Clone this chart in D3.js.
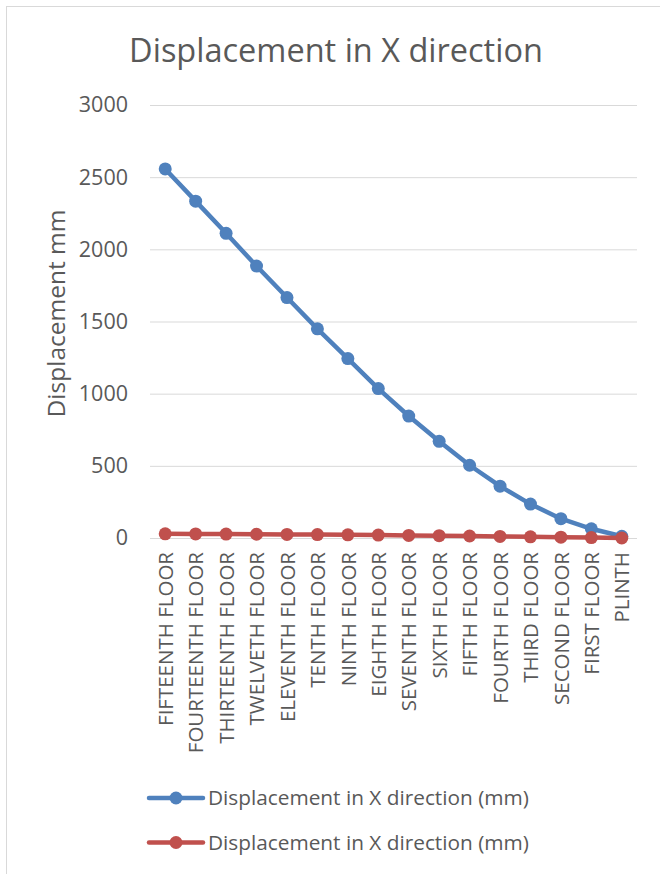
<!DOCTYPE html>
<html>
<head>
<meta charset="utf-8">
<script src="https://cdn.jsdelivr.net/npm/d3@7"></script>
<style>
  html, body { margin: 0; padding: 0; background: #fff; }
  svg { display: block; font-family: "Open Sans", sans-serif; }
</style>
</head>
<body>
<svg id="chart" width="660" height="874"></svg>
<script>
// Floors from top storey down to plinth
const floors = [
  "FIFTEENTH FLOOR", "FOURTEENTH FLOOR", "THIRTEENTH FLOOR", "TWELVETH FLOOR",
  "ELEVENTH FLOOR", "TENTH FLOOR", "NINTH FLOOR", "EIGHTH FLOOR",
  "SEVENTH FLOOR", "SIXTH FLOOR", "FIFTH FLOOR", "FOURTH FLOOR",
  "THIRD FLOOR", "SECOND FLOOR", "FIRST FLOOR", "PLINTH"
];

// Storey displacement in X direction (mm), two result sets
const seriesA = [2557, 2334, 2111, 1884, 1666, 1449, 1243, 1035, 845, 670, 504, 359, 235, 134, 64, 12];
const seriesB = [29, 28, 27, 26, 25, 24, 22, 20, 18, 16, 14, 11, 8, 6, 3, 0];

const seriesNames = ["Displacement in X direction (mm)", "Displacement in X direction (mm)"];
const seriesColors = ["#4f81bd", "#c0504d"];

const yTicks = [0, 500, 1000, 1500, 2000, 2500, 3000];

const svg = d3.select("#chart");
const textColor = "#595959";

// Chart frame
svg.append("rect")
  .attr("x", 6.5).attr("y", 6.5)
  .attr("width", 680).attr("height", 900)
  .attr("fill", "#fff").attr("stroke", "#d9d9d9").attr("stroke-width", 1);

const plot = { left: 150, right: 637, top: 105, bottom: 538 };

const x = d3.scalePoint()
  .domain(floors)
  .range([plot.left, plot.right])
  .padding(0.5);

const y = d3.scaleLinear()
  .domain([0, 3000])
  .range([plot.bottom, plot.top]);

// Title
svg.append("text")
  .attr("x", 336).attr("y", 62)
  .attr("text-anchor", "middle")
  .attr("font-size", 32.5)
  .attr("fill", textColor)
  .text("Displacement in X direction");

// Gridlines + y tick labels
const yAxis = d3.axisLeft(y)
  .tickValues(yTicks)
  .tickSize(-(plot.right - plot.left))
  .tickPadding(22)
  .tickFormat(d3.format("d"));

const gy = svg.append("g")
  .attr("transform", `translate(${plot.left},0)`)
  .call(yAxis);
gy.select(".domain").remove();
gy.selectAll(".tick line").attr("stroke", "#d9d9d9").attr("stroke-width", 1);
gy.selectAll(".tick text")
  .attr("font-size", 21.5)
  .attr("fill", textColor)
  .attr("font-family", "Open Sans, sans-serif");

// Y axis title
svg.append("text")
  .attr("transform", `translate(65,${(plot.top + plot.bottom) / 2 - 8}) rotate(-90)`)
  .attr("text-anchor", "middle")
  .attr("font-size", 24.5)
  .attr("fill", textColor)
  .text("Displacement mm");

// Category labels (rotated)
const xAxis = d3.axisBottom(x).tickSize(0).tickPadding(0);
const gx = svg.append("g")
  .attr("transform", `translate(0,${plot.bottom})`)
  .call(xAxis);
gx.select(".domain").remove();
gx.selectAll(".tick text")
  .attr("font-size", 20.5)
  .attr("fill", textColor)
  .attr("font-family", "Open Sans, sans-serif")
  .attr("text-anchor", "end")
  .attr("dy", "0.35em")
  .attr("transform", "translate(0,14) rotate(-90)")
  .attr("x", 0).attr("y", 0);

// Series lines + markers
const line = d3.line()
  .x((d, i) => x(floors[i]))
  .y(d => y(d));

[seriesA, seriesB].forEach((vals, s) => {
  const g = svg.append("g");
  g.append("path")
    .datum(vals)
    .attr("d", line)
    .attr("fill", "none")
    .attr("stroke", seriesColors[s])
    .attr("stroke-width", 4.5)
    .attr("stroke-linejoin", "round")
    .attr("stroke-linecap", "round");
  g.selectAll("circle")
    .data(vals)
    .join("circle")
    .attr("cx", (d, i) => x(floors[i]))
    .attr("cy", d => y(d))
    .attr("r", 6.5)
    .attr("fill", seriesColors[s]);
});

// Legend
const legend = svg.append("g");
seriesNames.forEach((name, s) => {
  const ly = 798 + s * 44.5;
  const row = legend.append("g");
  row.append("line")
    .attr("x1", 149).attr("x2", 203)
    .attr("y1", ly).attr("y2", ly)
    .attr("stroke", seriesColors[s])
    .attr("stroke-width", 4.5)
    .attr("stroke-linecap", "round");
  row.append("circle")
    .attr("cx", 176).attr("cy", ly).attr("r", 6.5)
    .attr("fill", seriesColors[s]);
  row.append("text")
    .attr("x", 208).attr("y", ly)
    .attr("dy", "0.35em")
    .attr("font-size", 20.8)
    .attr("fill", textColor)
    .text(name);
});
</script>
</body>
</html>
